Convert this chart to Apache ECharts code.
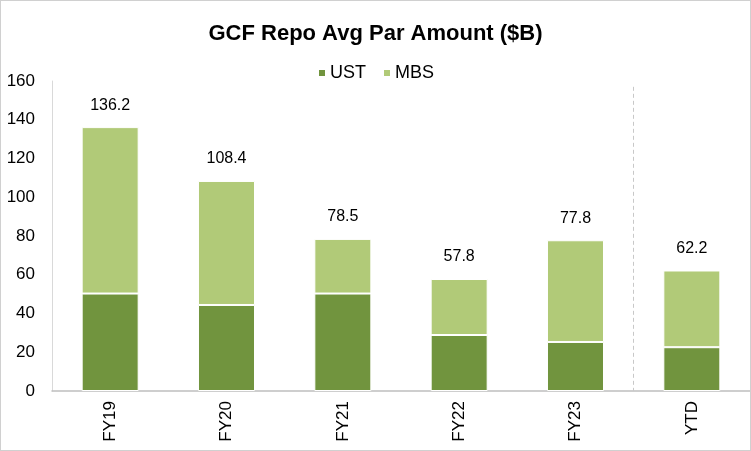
<!DOCTYPE html>
<html>
<head>
<meta charset="utf-8">
<script src="https://cdn.jsdelivr.net/npm/echarts@6/dist/echarts.min.js"></script>
<style>
  html, body { margin: 0; padding: 0; background: #fff; }
  #chart { width: 751px; height: 451px; box-sizing: border-box; border: 1px solid #d0d0d0; }
</style>
</head>
<body>
<div id="chart"></div>
<script>
// data
const categories = ["FY19", "FY20", "FY21", "FY22", "FY23", "YTD"];
const ustValues = [50.3, 44.4, 50.3, 28.9, 25.3, 22.6];
const totals = [136.2, 108.4, 78.5, 57.8, 77.8, 62.2];
const mbsValues = totals.map((t, i) => +(t - ustValues[i]).toFixed(1));
const yTicks = [0, 20, 40, 60, 80, 100, 120, 140, 160];
// dashed divider sits on the boundary before "YTD"
const dividerAt = 5;

const FONT = "Liberation Sans, Arial, sans-serif";

const chart = echarts.init(document.getElementById("chart"));
chart.setOption({
  animation: false,
  title: {
    text: "GCF Repo Avg Par Amount ($B)",
    left: "center",
    top: 17,
    textStyle: { fontFamily: FONT, fontSize: 22, fontWeight: "bold", color: "#000" },
  },
  legend: {
    data: ["UST", "MBS"],
    top: 58,
    left: "center",
    icon: "rect",
    itemWidth: 8,
    itemHeight: 8,
    itemGap: 16,
    textStyle: { fontFamily: FONT, fontSize: 18, color: "#000", padding: [0, 0, 0, -1] },
  },
  grid: { left: 51, right: 0, top: 80, bottom: 59, containLabel: false },
  xAxis: [
    {
      type: "category",
      data: categories,
      axisTick: { show: false },
      axisLine: { lineStyle: { color: "#bfbfbf", width: 1.5 } },
      axisLabel: { rotate: 90, margin: 10, fontFamily: FONT, fontSize: 17, color: "#000" },
      splitLine: { show: false },
    },
    {
      // helper axis for the divider line, hidden
      type: "value",
      min: 0,
      max: categories.length,
      show: false,
    },
  ],
  yAxis: {
    type: "value",
    min: yTicks[0],
    max: yTicks[yTicks.length - 1],
    interval: 20,
    axisLine: { show: true, lineStyle: { color: "#d9d9d9" } },
    axisTick: { show: false },
    splitLine: { show: false },
    axisLabel: { margin: 17, fontFamily: FONT, fontSize: 17, color: "#000" },
  },
  series: [
    {
      name: "UST",
      type: "bar",
      stack: "total",
      barWidth: "49%",
      data: ustValues,
      itemStyle: { color: "#71943e", borderColor: "#fff", borderWidth: 1 },
    },
    {
      name: "MBS",
      type: "bar",
      stack: "total",
      data: mbsValues,
      itemStyle: { color: "#b1ca78", borderColor: "#fff", borderWidth: 1 },
      label: {
        show: true,
        position: "top",
        distance: 14,
        fontFamily: FONT,
        fontSize: 16,
        color: "#000",
        formatter: (p) => totals[p.dataIndex].toFixed(1),
      },
    },
    {
      name: "divider",
      type: "line",
      xAxisIndex: 1,
      data: [],
      silent: true,
      markLine: {
        silent: true,
        symbol: "none",
        label: { show: false },
        lineStyle: { color: "#c8c8c8", type: [4, 3], width: 1 },
        data: [[{ xAxis: dividerAt, yAxis: 157 }, { xAxis: dividerAt, yAxis: 0 }]],
      },
    },
  ],
});
</script>
</body>
</html>
